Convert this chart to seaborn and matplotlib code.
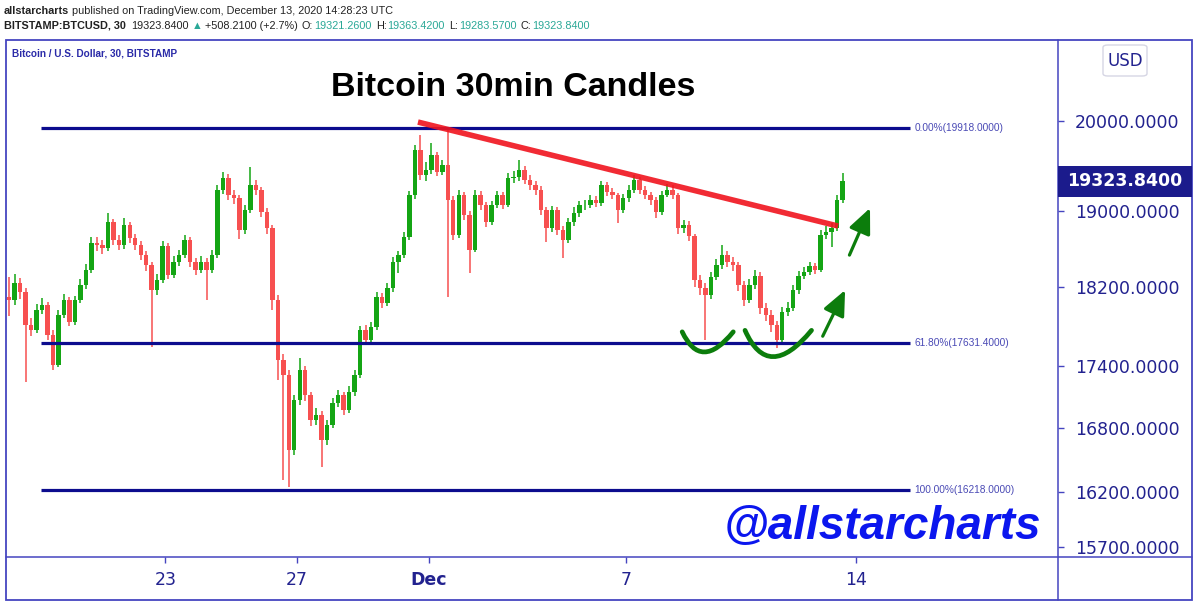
import numpy as np
import pandas as pd
import seaborn as sns
import matplotlib
matplotlib.use("Agg")
import matplotlib.pyplot as plt
import matplotlib.dates as mdates
from matplotlib.patches import Rectangle, FancyBboxPatch, PathPatch
from matplotlib.path import Path
from matplotlib.lines import Line2D
from matplotlib.ticker import FixedLocator, NullLocator, FuncFormatter

# -------- data (BTCUSD, 4h buckets) --------
candle_start = "2020-11-18 06:00"
opens = [18100, 18064, 18240, 18147, 17810, 17759, 17962, 18013, 17709, 17410,
         17911, 18064, 17841, 18064, 18219, 18375, 18659, 18638, 18606, 18883,
         18691, 18638, 18851, 18712, 18638, 18532, 18427, 18167, 18271, 18627,
         18323, 18459, 18532, 18691, 18459, 18375, 18459, 18375, 18532, 19229,
         19360, 19174, 19142, 18797, 19012, 19284, 19229, 18990, 18819, 18064,
         17459, 17311, 16590, 17067, 17361, 17116, 16875, 16923, 16684, 16827,
         17038, 17116, 16971, 17145, 17311, 17759, 17659, 17790, 18095, 18033,
         18188, 18459, 18532, 18723, 19174, 19671, 19393, 19449, 19615, 19427,
         19504, 19120, 18744, 19174, 18958, 18585, 19174, 19066, 18883, 19066,
         19174, 19066, 19360, 19371, 19449, 19338, 19284, 19229, 19012, 18819,
         19012, 18797, 18691, 18883, 18980, 19066, 19066, 19120, 19088, 19284,
         19207, 19174, 19012, 19142, 19229, 19338, 19229, 19174, 19120, 18990,
         19174, 19229, 19174, 18819, 18851, 18733, 18271, 18188, 18116, 18302,
         18427, 18532, 18459, 18427, 18219, 18064, 18219, 18313, 17983, 17911,
         17810, 17659, 17942, 17983, 18167, 18313, 18354, 18417, 18375, 18744,
         18776, 18819, 19120]
closes = [18064, 18240, 18147, 17810, 17759, 17962, 18013, 17709, 17410, 17911,
          18064, 17841, 18064, 18219, 18375, 18659, 18638, 18606, 18883, 18691,
          18638, 18851, 18712, 18638, 18532, 18427, 18167, 18271, 18627, 18323,
          18459, 18532, 18691, 18459, 18375, 18459, 18375, 18532, 19229, 19360,
          19174, 19142, 18797, 19012, 19284, 19229, 18990, 18819, 18064, 17459,
          17311, 16590, 17067, 17361, 17116, 16875, 16923, 16684, 16827, 17038,
          17116, 16971, 17145, 17311, 17759, 17659, 17790, 18095, 18033, 18188,
          18459, 18532, 18723, 19174, 19671, 19393, 19449, 19615, 19427, 19504,
          19120, 18744, 19174, 18958, 18585, 19174, 19066, 18883, 19066, 19174,
          19066, 19360, 19371, 19449, 19338, 19284, 19229, 19012, 18819, 19012,
          18797, 18691, 18883, 18980, 19066, 19066, 19120, 19088, 19284, 19207,
          19174, 19012, 19142, 19229, 19338, 19229, 19174, 19120, 18990, 19174,
          19229, 19174, 18819, 18851, 18733, 18271, 18188, 18116, 18302, 18427,
          18532, 18459, 18427, 18219, 18064, 18219, 18313, 17983, 17911, 17810,
          17659, 17942, 17983, 18167, 18313, 18354, 18417, 18375, 18744, 18776,
          18819, 19120, 19323.84]
highs = [18300, 18330, 18290, 18190, 17880, 18020, 18090, 18050, 17760, 17960,
         18130, 18100, 18110, 18280, 18440, 18720, 18720, 18690, 18980, 18920,
         18740, 18926, 18880, 18760, 18680, 18570, 18460, 18330, 18680, 18660,
         18520, 18590, 18740, 18720, 18500, 18520, 18500, 18590, 19280, 19427,
         19400, 19230, 19180, 19070, 19482, 19340, 19260, 19030, 18850, 18120,
         17520, 17360, 17120, 17479, 17400, 17150, 16990, 16960, 16880, 17090,
         17170, 17150, 17200, 17360, 17800, 17810, 17840, 18150, 18140, 18240,
         18510, 18580, 18780, 19220, 19727, 19839, 19540, 19750, 19650, 19560,
         19918, 19160, 19230, 19210, 19000, 19230, 19220, 19100, 19110, 19220,
         19210, 19420, 19440, 19559, 19490, 19390, 19330, 19270, 19050, 19060,
         19050, 18840, 18930, 19040, 19110, 19120, 19170, 19160, 19330, 19320,
         19250, 19200, 19190, 19280, 19393, 19370, 19270, 19210, 19150, 19220,
         19300, 19280, 19200, 18910, 18890, 18760, 18320, 18240, 18360, 18490,
         18638, 18580, 18510, 18460, 18260, 18280, 18380, 18350, 18030, 17960,
         17850, 17990, 18040, 18220, 18370, 18410, 18460, 18450, 18800, 18840,
         18870, 19180, 19415]
lows = [17900, 18010, 18080, 17242, 17700, 17730, 17920, 17660, 17361, 17390,
        17880, 17800, 17810, 18030, 18180, 18340, 18580, 18540, 18570, 18640,
        18590, 18600, 18660, 18590, 18480, 18370, 17589, 18120, 18240, 18280,
        18290, 18420, 18500, 18410, 18320, 18340, 18064, 18340, 18500, 19190,
        19120, 19080, 18700, 18760, 18980, 19170, 18940, 18760, 17962, 17262,
        16309, 16245, 16540, 17020, 17060, 16820, 16830, 16430, 16640, 16800,
        17000, 16920, 16940, 17110, 17280, 17610, 17620, 17760, 17980, 18000,
        18150, 18344, 18500, 18690, 19130, 19340, 19330, 19400, 19380, 19390,
        18095, 18690, 18710, 18900, 18344, 18560, 19010, 18830, 18850, 19030,
        19020, 19040, 19310, 19330, 19290, 19230, 19180, 18960, 18670, 18780,
        18740, 18500, 18660, 18840, 18940, 19010, 19030, 19040, 19060, 19160,
        19130, 18872, 18980, 19100, 19200, 19190, 19130, 19070, 18926, 18960,
        19150, 19130, 18760, 18770, 18680, 18200, 18120, 17659, 18080, 18270,
        18390, 18410, 18370, 18160, 18000, 18030, 18180, 17920, 17850, 17740,
        17579, 17630, 17900, 17950, 18130, 18280, 18320, 18330, 18350, 18700,
        18617, 18790, 19090]

fib_levels = [19918.0, 17631.4, 16218.0]
fib_pcts = [0.00, 61.80, 100.00]
fib_span = ["2020-11-19 05:00", "2020-12-15 15:00"]

trend_times = ["2020-11-30 16:15", "2020-12-13 10:45"]
trend_prices = [19986, 18840]

# quadratic curves (start, control, end) for the two "cup" marks
smile1_times = ["2020-12-08 17:00", "2020-12-09 06:40", "2020-12-10 06:15"]
smile1_prices = [17742, 17341, 17742]
smile2_times = ["2020-12-10 14:50", "2020-12-11 07:40", "2020-12-12 15:20"]
smile2_prices = [17757, 17234, 17757]

arrow_tails = [("2020-12-12 23:30", 17698), ("2020-12-13 19:00", 18532)]
arrow_tips = [("2020-12-13 15:50", 18167), ("2020-12-14 10:00", 19033)]

price_ticks = [20000, 19000, 18200, 17400, 16800, 16200, 15700]
xtick_dates = ["2020-11-23", "2020-11-27", "2020-12-01", "2020-12-07", "2020-12-14"]
xtick_labels = ["23", "27", "Dec", "7", "14"]
x_range = ["2020-11-18 03:43", "2020-12-20 03:09"]
y_range = [15613, 20939]

last_price = 19323.84
change = 508.21
change_pct = 2.7
ohlc_last = [("O:", 19321.26), ("H:", 19363.42), ("L:", 19283.57), ("C:", 19323.84)]

# -------- styling --------
W, H = 1200, 613
NAVY = "#22228f"
FRAME = "#4545c0"
GREEN = "#14a514"
RED = "#f75050"
ARROW_GREEN = "#0c7d0c"
TEAL = "#2aa897"

sns.set_theme(style="white")
plt.rcParams["font.family"] = ["DejaVu Sans"]

fig = plt.figure(figsize=(W / 100, H / 100), dpi=100)
fig.patch.set_facecolor("white")
ax = fig.add_axes([6 / W, 1 - 557 / H, (1058 - 6) / W, (557 - 40) / H])

df = pd.DataFrame({"time": pd.date_range(candle_start, periods=len(closes), freq="4h"),
                   "open": opens, "high": highs, "low": lows, "close": closes})
df["x"] = mdates.date2num(df["time"])
df["color"] = np.where(df["close"] >= df["open"], GREEN, RED)

# candles
ax.vlines(df["x"], df["low"], df["high"], colors=df["color"], lw=1.1, zorder=2)
body_lo = df[["open", "close"]].min(axis=1)
body_h = (df["close"] - df["open"]).abs().clip(lower=5)
ax.bar(df["x"], body_h, bottom=body_lo, width=0.135, color=df["color"], lw=0, zorder=3)

# fibonacci levels
fx0, fx1 = mdates.date2num(pd.to_datetime(fib_span))
ax.hlines(fib_levels, fx0, fx1, color="#0c0c8e", lw=2.3, zorder=4)
for lvl, pct in zip(fib_levels, fib_pcts):
    ax.text(fx1 + 0.15, lvl, f"{pct:.2f}%({lvl:.4f})", fontsize=7.3, color="#4a4ab5",
            va="center", ha="left", family="Liberation Sans")

# trend line
trend = pd.DataFrame({"x": mdates.date2num(pd.to_datetime(trend_times)), "y": trend_prices})
sns.lineplot(data=trend, x="x", y="y", ax=ax, color="#f0141e", lw=4.0, alpha=0.9,
             solid_capstyle="butt", zorder=5)

# cup marks
for ts, ps in [(smile1_times, smile1_prices), (smile2_times, smile2_prices)]:
    xs = mdates.date2num(pd.to_datetime(ts))
    path = Path(list(zip(xs, ps)), [Path.MOVETO, Path.CURVE3, Path.CURVE3])
    ax.add_patch(PathPatch(path, fill=False, ec=ARROW_GREEN, lw=3.4, capstyle="round", zorder=6))

# arrows
for (t0, p0), (t1, p1) in zip(arrow_tails, arrow_tips):
    ax.annotate("", xy=(mdates.date2num(pd.Timestamp(t1)), p1),
                xytext=(mdates.date2num(pd.Timestamp(t0)), p0),
                arrowprops=dict(arrowstyle="-|>,head_length=0.9,head_width=0.4", color=ARROW_GREEN,
                                lw=2.3, mutation_scale=17, shrinkA=0, shrinkB=0), zorder=6)

# axes
ax.set_yscale("log")
ax.set_xlim(mdates.date2num(pd.to_datetime(x_range)))
ax.set_ylim(y_range)
ax.yaxis.set_major_locator(FixedLocator(price_ticks))
ax.yaxis.set_minor_locator(NullLocator())
ax.yaxis.set_major_formatter(FuncFormatter(lambda v, _: f"{v:.4f}"))
ax.yaxis.tick_right()
ax.set_xticks(mdates.date2num(pd.to_datetime(xtick_dates)))
ax.set_xticklabels(xtick_labels)
ax.xaxis.set_minor_locator(NullLocator())
ax.tick_params(axis="y", which="major", right=True, left=False, labelright=True, labelleft=False,
               direction="out", length=4, width=1, color=FRAME, labelcolor=NAVY,
               labelsize=12.5, pad=8)
ax.tick_params(axis="x", which="major", bottom=True, direction="out", length=4, width=1,
               color=FRAME, labelcolor=NAVY, labelsize=12.5, pad=6)
ax.get_xticklabels()[2].set_fontweight("bold")
ax.set_xlabel("")
ax.set_ylabel("")
for s in ax.spines.values():
    s.set_visible(False)
ax.grid(False)

# pane frame
fig.add_artist(Rectangle((6 / W, 1 - 600 / H), (1192 - 6) / W, (600 - 40) / H,
                         transform=fig.transFigure, fill=False, ec=FRAME, lw=1.3))
fig.add_artist(Line2D([1058 / W, 1058 / W], [1 - 600 / H, 1 - 40 / H],
                      transform=fig.transFigure, color=FRAME, lw=1.1))
fig.add_artist(Line2D([6 / W, 1192 / W], [1 - 557 / H, 1 - 557 / H],
                      transform=fig.transFigure, color=FRAME, lw=1.1))

# last price box on the price scale
fig.canvas.draw()
_, py = ax.transData.transform((df["x"].iloc[-1], last_price))
fig.add_artist(Rectangle((1058 / W, (py - 15.5) / H), (1192 - 1058) / W, 31 / H,
                         transform=fig.transFigure, fc="#1b1b8c", ec="none", zorder=5))
fig.text(1125 / W, py / H, f"{last_price:.4f}", color="white", fontsize=12.5,
         weight="bold", ha="center", va="center", zorder=6)

# USD box
fig.add_artist(FancyBboxPatch((1103 / W, 1 - 76 / H), 44 / W, 31 / H,
                              boxstyle="round,pad=0,rounding_size=0.004",
                              transform=fig.transFigure, fc="white", ec="#d6d6e4", lw=1))
fig.text(1125 / W, 1 - 60.5 / H, "USD", color=NAVY, fontsize=12, ha="center", va="center")

# titles / watermark
fig.text(513 / W, 1 - 88 / H, "Bitcoin 30min Candles", fontsize=24.5, weight="bold",
         color="black", ha="center", va="center", family="Liberation Sans")
fig.text(882 / W, 1 - 527 / H, "@allstarcharts", fontsize=33, weight="bold", style="italic",
         color="#0b16ee", ha="center", va="center", family="Liberation Sans")
fig.text(12 / W, 1 - 53 / H, "Bitcoin / U.S. Dollar, 30, BITSTAMP", fontsize=7.2,
         weight="bold", color="#2a2aa8", ha="left", va="center", family="Liberation Sans")

# header lines with mixed colours
renderer = fig.canvas.get_renderer()
HDR = ["Liberation Sans", "DejaVu Sans"]


def draw_runs(runs, x_px, y_px, size):
    x = x_px
    for text, color, weight, gap in runs:
        t = fig.text(x / W, 1 - y_px / H, text, color=color, fontsize=size, weight=weight,
                     ha="left", va="center", family=HDR)
        x += t.get_window_extent(renderer).width + gap


draw_runs([("allstarcharts", "#222222", "bold", 3),
           ("published on TradingView.com, December 13, 2020 14:28:23 UTC", "#222222", "normal", 0)],
          4, 11, 7.8)
line2 = [("BITSTAMP:BTCUSD, 30", "#222222", "bold", 5),
         (f"{last_price:.4f}", "#222222", "normal", 3),
         ("\u25b2", TEAL, "normal", 3),
         (f"+{change:.4f} (+{change_pct}%)", "#222222", "normal", 4)]
for lab, val in ohlc_last:
    line2.append((lab, "#222222", "normal", 1))
    line2.append((f"{val:.4f}", TEAL, "normal", 4))
draw_runs(line2, 4, 26, 7.8)

fig.savefig("out.png", dpi=100, facecolor="white")
